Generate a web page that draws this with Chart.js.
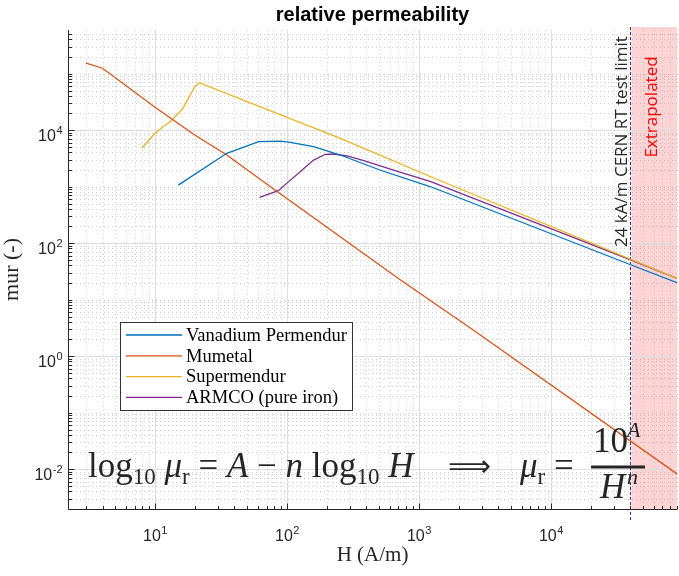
<!DOCTYPE html>
<html>
<head>
<meta charset="utf-8">
<script src="https://cdn.jsdelivr.net/npm/chart.js@4.4.0/dist/chart.umd.min.js"></script>
<style>
  html, body { margin: 0; padding: 0; background: #fff; }
  #wrap { width: 679px; height: 576px; position: relative; }
</style>
</head>
<body>
<div id="wrap"><canvas id="myChart"></canvas></div>
<script>
// values (H in A/m, relative permeability)
const vanadiumH  = [15, 35, 61, 89, 106, 159, 254, 506, 1230, 40700, 90400];
const vanadiumMu = [1060, 3870, 6210, 6380, 6050, 5060, 3610, 1960, 990, 40.8, 19.8];

const mumetalH  = [3, 4, 10, 20, 35, 75, 726, 2470, 90400];
const mumetalMu = [152000, 124000, 25200, 8160, 3610, 990, 22.1, 3.09, 0.0082];

const supermendurH  = [8, 10, 11.5, 13.3, 16.3, 20, 21.6, 254, 1230, 90400];
const supermendurMu = [4860, 8750, 11400, 14600, 24200, 58400, 68700, 7130, 1490, 23.7];

const armcoH  = [62, 86, 103, 126, 159, 195, 226, 286, 382, 679, 1230, 40700, 90400];
const armcoMu = [644, 844, 1220, 1830, 2940, 3720, 3760, 3470, 2860, 1880, 1220, 50, 23.7];

const seriesNames  = ['Vanadium Permendur', 'Mumetal', 'Supermendur', 'ARMCO (pure iron)'];
const seriesColors = ['#0072BD', '#D95319', '#EDB120', '#7E2F8E'];

const xMin = 2.19, xMax = 90400;
const yMin = 1.96e-3, yMax = 5.89e5;
const xMajor = [1, 2, 3, 4];      // exponents with labels
const yMajor = [-2, 0, 2, 4];
const testLimitH = 39500;
const extrapStartH = 40800;

const axisColor = '#262626';

function toPoints(hs, mus) {
  return hs.map((h, i) => ({x: h, y: mus[i]}));
}

function minorValues(lo, hi) {
  let vals = [];
  for (let e = Math.floor(Math.log10(lo)); e <= Math.ceil(Math.log10(hi)); e++) {
    for (let k = 1; k <= 9; k++) {
      const v = k * Math.pow(10, e);
      if (v >= lo && v <= hi) vals.push({v: v, k: k, e: e});
    }
  }
  return vals;
}

function drawPow(ctx, e, x, y, align) {
  const base = '16px "Liberation Sans", Arial, sans-serif';
  const sup = '11px "Liberation Sans", Arial, sans-serif';
  const expText = String(e);
  ctx.font = base;
  const w1 = ctx.measureText('10').width;
  ctx.font = sup;
  const w2 = ctx.measureText(expText).width;
  let sx = align === 'right' ? x - w1 - w2 : x - (w1 + w2) / 2;
  ctx.textAlign = 'left';
  ctx.textBaseline = 'alphabetic';
  ctx.font = base;
  ctx.fillText('10', sx, y);
  ctx.font = sup;
  ctx.fillText(expText, sx + w1 + 0.5, y - 7);
}

function drawRuns(ctx, runs, x, y) {
  for (const r of runs) {
    ctx.font = r[1];
    ctx.fillText(r[0], x, y + (r[2] || 0));
    x += ctx.measureText(r[0]).width;
  }
  return x;
}

const decor = {
  id: 'decor',
  beforeDatasetsDraw(chart) {
    const {ctx, chartArea: a, scales: {x, y}} = chart;
    ctx.save();

    // extrapolated region
    const sx = x.getPixelForValue(extrapStartH);
    ctx.fillStyle = 'rgba(255,0,0,0.17)';
    ctx.fillRect(sx, a.top - 3, a.right - sx, a.bottom - a.top + 3);

    // minor grid (dotted)
    ctx.lineWidth = 1;
    ctx.strokeStyle = 'rgba(110,110,110,0.32)';
    ctx.setLineDash([1, 3]);
    minorValues(xMin, xMax).forEach(m => {
      if (m.k === 1) return;
      const px = Math.round(x.getPixelForValue(m.v)) + 0.5;
      ctx.beginPath(); ctx.moveTo(px, a.top); ctx.lineTo(px, a.bottom); ctx.stroke();
    });
    minorValues(yMin, yMax).forEach(m => {
      if (m.k === 1 && yMajor.includes(m.e)) return;
      const py = Math.round(y.getPixelForValue(m.v)) + 0.5;
      ctx.beginPath(); ctx.moveTo(a.left, py); ctx.lineTo(a.right, py); ctx.stroke();
    });

    // major grid
    ctx.setLineDash([]);
    ctx.strokeStyle = '#dedede';
    xMajor.forEach(e => {
      const px = Math.round(x.getPixelForValue(Math.pow(10, e))) + 0.5;
      ctx.beginPath(); ctx.moveTo(px, a.top); ctx.lineTo(px, a.bottom); ctx.stroke();
    });
    yMajor.forEach(e => {
      const py = Math.round(y.getPixelForValue(Math.pow(10, e))) + 0.5;
      ctx.beginPath(); ctx.moveTo(a.left, py); ctx.lineTo(a.right, py); ctx.stroke();
    });

    // test limit line
    const lx = Math.round(x.getPixelForValue(testLimitH)) + 0.5;
    ctx.strokeStyle = '#1c3f94';
    ctx.setLineDash([3, 2]);
    ctx.beginPath(); ctx.moveTo(lx, a.top - 3); ctx.lineTo(lx, a.bottom + 13); ctx.stroke();
    ctx.restore();
  },
  afterDatasetsDraw(chart) {
    const {ctx, chartArea: a, scales: {x, y}} = chart;
    ctx.save();
    ctx.setLineDash([]);

    // axes + inward ticks
    const left = Math.round(a.left) + 0.5, bottom = Math.round(a.bottom) + 0.5;
    ctx.strokeStyle = axisColor;
    ctx.lineWidth = 1;
    ctx.beginPath();
    ctx.moveTo(left, a.top); ctx.lineTo(left, bottom); ctx.lineTo(a.right, bottom);
    ctx.stroke();
    ctx.beginPath();
    minorValues(xMin, xMax).forEach(m => {
      const px = Math.round(x.getPixelForValue(m.v)) + 0.5;
      const len = m.k === 1 ? 6 : 3.5;
      ctx.moveTo(px, bottom); ctx.lineTo(px, bottom - len);
    });
    minorValues(yMin, yMax).forEach(m => {
      const py = Math.round(y.getPixelForValue(m.v)) + 0.5;
      const len = (m.k === 1 && yMajor.includes(m.e)) ? 6 : 3.5;
      ctx.moveTo(left, py); ctx.lineTo(left + len, py);
    });
    ctx.stroke();

    // tick labels
    ctx.fillStyle = axisColor;
    xMajor.forEach(e => drawPow(ctx, e, x.getPixelForValue(Math.pow(10, e)), a.bottom + 32, 'center'));
    yMajor.forEach(e => drawPow(ctx, e, a.left - 6, y.getPixelForValue(Math.pow(10, e)) + 11, 'right'));

    // title and axis labels
    const cx = (a.left + a.right) / 2;
    ctx.textAlign = 'center';
    ctx.font = 'bold 20px "Liberation Sans", Arial, sans-serif';
    ctx.fillStyle = '#000';
    ctx.fillText('relative permeability', cx, 21);
    ctx.fillStyle = axisColor;
    ctx.font = '21px "Liberation Serif", serif';
    ctx.fillText('H (A/m)', cx, 561);
    ctx.save();
    ctx.translate(18, (a.top + a.bottom) / 2);
    ctx.rotate(-Math.PI / 2);
    ctx.font = '22px "Liberation Serif", serif';
    ctx.fillText('mur (-)', 0, 0);
    ctx.restore();

    // vertical annotations
    ctx.save();
    ctx.translate(627, 247);
    ctx.rotate(-Math.PI / 2);
    ctx.textAlign = 'left';
    ctx.font = '17px "Open Sans", sans-serif';
    ctx.fillStyle = axisColor;
    ctx.fillText('24 kA/m CERN RT test limit', 0, 0);
    ctx.restore();
    ctx.save();
    ctx.translate(657, 107);
    ctx.rotate(-Math.PI / 2);
    ctx.textAlign = 'center';
    ctx.font = '17px "Open Sans", sans-serif';
    ctx.fillStyle = '#ff0000';
    ctx.fillText('Extrapolated', 0, 0);
    ctx.restore();

    // legend
    ctx.fillStyle = '#fff';
    ctx.fillRect(120.5, 322.5, 232, 88);
    ctx.strokeStyle = '#333';
    ctx.lineWidth = 1;
    ctx.strokeRect(120.5, 322.5, 232, 88);
    ctx.textAlign = 'left';
    ctx.textBaseline = 'middle';
    ctx.font = '18.5px "Liberation Serif", serif';
    seriesNames.forEach((name, i) => {
      const ry = 335 + i * 20.8;
      ctx.strokeStyle = seriesColors[i];
      ctx.lineWidth = 1.3;
      ctx.beginPath(); ctx.moveTo(126, ry); ctx.lineTo(182, ry); ctx.stroke();
      ctx.fillStyle = '#000';
      ctx.fillText(name, 186, ry + 1);
    });

    // formula
    ctx.textBaseline = 'alphabetic';
    ctx.fillStyle = axisColor;
    const big = '35px "Liberation Serif", serif';
    const bigI = 'italic 35px "Liberation Serif", serif';
    const sub = '23px "Liberation Serif", serif';
    drawRuns(ctx, [
      ['log', big], ['10', sub, 7], [' ', big], ['\u03bc', bigI], ['r', sub, 7],
      [' = ', big], ['A', bigI], [' \u2212 ', big], ['n', bigI], [' log', big],
      ['10', sub, 7], [' ', big], ['H', bigI]
    ], 88, 477);
    ctx.font = '30px "DejaVu Sans", sans-serif';
    ctx.fillText('\u27f9', 448, 476);
    drawRuns(ctx, [['\u03bc', bigI], ['r', sub, 7], [' =', big]], 520, 477);
    ctx.fillRect(591, 465.5, 54, 3);
    drawRuns(ctx, [['10', big]], 593, 452);
    drawRuns(ctx, [['A', 'italic 22px "Liberation Serif", serif']], 627, 437);
    drawRuns(ctx, [['H', bigI]], 600, 498);
    drawRuns(ctx, [['n', 'italic 22px "Liberation Serif", serif']], 627, 484);

    ctx.restore();
  }
};

const datasets = [
  toPoints(vanadiumH, vanadiumMu),
  toPoints(mumetalH, mumetalMu),
  toPoints(supermendurH, supermendurMu),
  toPoints(armcoH, armcoMu)
].map((pts, i) => ({
  label: seriesNames[i],
  data: pts,
  borderColor: seriesColors[i],
  backgroundColor: seriesColors[i],
  borderWidth: 1.3,
  pointRadius: 0,
  tension: 0,
  fill: false
}));

let config = {
  type: 'line',
  data: {datasets: datasets},
  options: {
    animation: false,
    responsive: true,
    maintainAspectRatio: false,
    layout: {padding: {left: 68, top: 30, right: 2, bottom: 67}},
    plugins: {legend: {display: false}, tooltip: {enabled: false}, title: {display: false}},
    scales: {
      x: {type: 'logarithmic', display: false, min: xMin, max: xMax, bounds: 'data'},
      y: {type: 'logarithmic', display: false, min: yMin, max: yMax, bounds: 'data'}
    }
  },
  plugins: [decor]
};

let myChart = new Chart(document.getElementById('myChart'), config);
</script>
</body>
</html>
